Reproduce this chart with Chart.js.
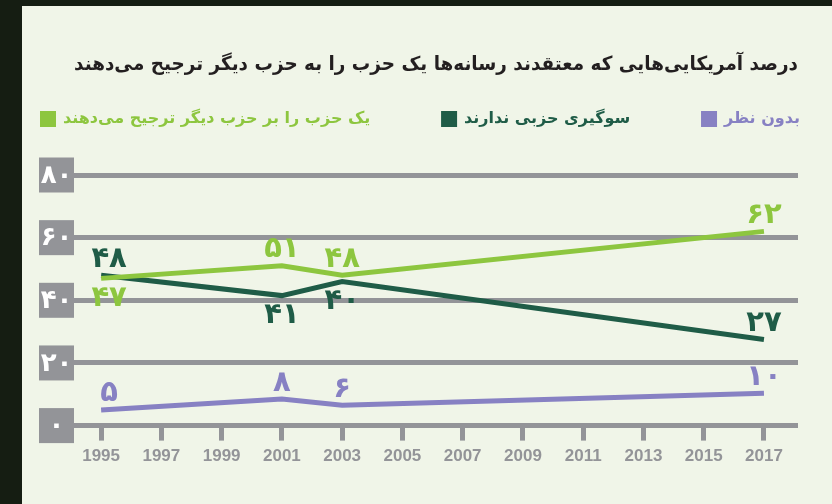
<!DOCTYPE html>
<html>
<head>
<meta charset="utf-8">
<script src="https://cdn.jsdelivr.net/npm/chart.js@4.4.1/dist/chart.umd.min.js"></script>
<style>
  html, body { margin: 0; padding: 0; }
  body { width: 832px; height: 504px; background: #151d12; position: relative; overflow: hidden; }
  #panel { position: absolute; left: 22px; top: 6px; right: 0; bottom: 0; background: #f0f5e8; }
  #chart { position: absolute; left: 0; top: 0; }
</style>
</head>
<body>
<div id="panel"></div>
<canvas id="chart" width="832" height="504"></canvas>
<script>
// data
const years = [1995, 2001, 2003, 2017]
const yearTicks = [1995, 1997, 1999, 2001, 2003, 2005, 2007, 2009, 2011, 2013, 2015, 2017]
const valueTicks = [0, 20, 40, 60, 80]

const preferOther = [47, 51, 48, 62]
const noBias = [48, 41.5, 46, 27.5]
const noOpinion = [5, 8.5, 6.5, 10.3]

// the labels printed next to the points
const preferOtherText = ['۴۷', '۵۱', '۴۸', '۶۲']
const noBiasText = ['۴۸', '۴۱', '۴۰', '۲۷']
const noOpinionText = ['۵', '۸', '۶', '۱۰']

const titleText = 'درصد آمریکایی‌هایی که معتقدند رسانه‌ها یک حزب را به حزب دیگر ترجیح می‌دهند'
const seriesNames = ['یک حزب را بر حزب دیگر ترجیح می‌دهند', 'سوگیری حزبی ندارند', 'بدون نظر']

const GRAY = '#939498'
const LIGHT = '#8dc63f'
const DARK = '#1f5c47'
const PURPLE = '#8781c3'
const FA = 'DejaVu Sans'

const toFa = n => String(n).replace(/\d/g, d => '۰۱۲۳۴۵۶۷۸۹'[d])

const pts = vals => years.map((y, i) => ({ x: y, y: vals[i] }))

// grey boxes with the y values
const yBoxes = {
  id: 'yBoxes',
  afterDraw(chart) {
    const { ctx, scales: { y } } = chart
    ctx.save()
    y.ticks.forEach(t => {
      const py = y.getPixelForValue(t.value)
      ctx.fillStyle = GRAY
      ctx.fillRect(39, py - 17.5, 35, 35)
      ctx.fillStyle = '#ffffff'
      ctx.font = `bold 26px "${FA}"`
      ctx.textAlign = 'center'
      ctx.textBaseline = 'middle'
      ctx.fillText(toFa(t.value), 56.5, py + 1)
    })
    ctx.restore()
  }
}

// value labels next to the points
const pointText = {
  id: 'pointText',
  afterDatasetsDraw(chart) {
    const ctx = chart.ctx
    ctx.save()
    ctx.font = `bold 29px "${FA}"`
    ctx.textAlign = 'center'
    ctx.textBaseline = 'middle'
    chart.data.datasets.forEach((ds, di) => {
      const meta = chart.getDatasetMeta(di)
      meta.data.forEach((el, i) => {
        const below = ds.textSide[i] === 'b'
        const dx = i === 0 ? 8 : 0
        ctx.fillStyle = ds.borderColor
        ctx.fillText(ds.pointText[i], el.x + dx, el.y + (below ? 20 : -16))
      })
    })
    ctx.restore()
  }
}

// legend row spread across the panel
const legendRow = {
  id: 'legendRow',
  afterDraw(chart) {
    const ctx = chart.ctx
    const box = 16, gap = 7, left = 40, right = 800, cy = 119
    ctx.save()
    ctx.font = `bold 16px "${FA}"`
    const items = chart.data.datasets.map(ds => ({
      text: ds.label, color: ds.borderColor,
      w: box + gap + ctx.measureText(ds.label).width
    }))
    const total = items.reduce((s, it) => s + it.w, 0)
    const space = (right - left - total) / (items.length - 1)
    let x = left
    items.forEach(it => {
      ctx.fillStyle = it.color
      ctx.fillRect(x, cy - box / 2, box, box)
      ctx.textAlign = 'left'
      ctx.textBaseline = 'middle'
      ctx.fillText(it.text, x + box + gap, cy)
      x += it.w + space
    })
    ctx.restore()
  }
}

const titleSize = 19.5

const chart = new Chart(document.getElementById('chart'), {
  type: 'line',
  data: {
    datasets: [
      {
        label: seriesNames[0],
        data: pts(preferOther),
        borderColor: LIGHT,
        pointText: preferOtherText,
        textSide: ['b', 't', 't', 't']
      },
      {
        label: seriesNames[1],
        data: pts(noBias),
        borderColor: DARK,
        pointText: noBiasText,
        textSide: ['t', 'b', 'b', 't']
      },
      {
        label: seriesNames[2],
        data: pts(noOpinion),
        borderColor: PURPLE,
        pointText: noOpinionText,
        textSide: ['t', 't', 't', 't']
      }
    ]
  },
  options: {
    responsive: false,
    animation: false,
    layout: { padding: { left: 74, right: 34, top: 0, bottom: 31 } },
    elements: {
      line: { borderWidth: 5, tension: 0, borderCapStyle: 'butt', fill: false },
      point: { radius: 0, hoverRadius: 0 }
    },
    scales: {
      x: {
        type: 'linear',
        min: 1994.1,
        max: 2018.13,
        afterBuildTicks: axis => { axis.ticks = yearTicks.map(v => ({ value: v })) },
        grid: { drawOnChartArea: false, drawTicks: true, tickLength: 15, tickWidth: 5, tickColor: GRAY },
        border: { display: false },
        ticks: {
          padding: 6,
          maxRotation: 0,
          autoSkip: false,
          color: GRAY,
          font: { family: 'Liberation Sans', size: 17, weight: 'bold' },
          callback: v => String(v)
        }
      },
      y: {
        min: 0,
        max: 80,
        afterBuildTicks: axis => { axis.ticks = valueTicks.map(v => ({ value: v })) },
        grid: { color: GRAY, lineWidth: 5, drawTicks: false },
        border: { display: false },
        ticks: { display: false }
      }
    },
    plugins: {
      legend: { display: false },
      tooltip: { enabled: false },
      title: {
        display: true,
        text: titleText,
        color: '#231f20',
        font: { family: FA, size: titleSize, weight: 'bold' },
        padding: { top: 65 - titleSize * 0.6, bottom: 175 - 65 - titleSize * 0.6 }
      }
    }
  },
  plugins: [yBoxes, pointText, legendRow]
})
</script>
</body>
</html>
